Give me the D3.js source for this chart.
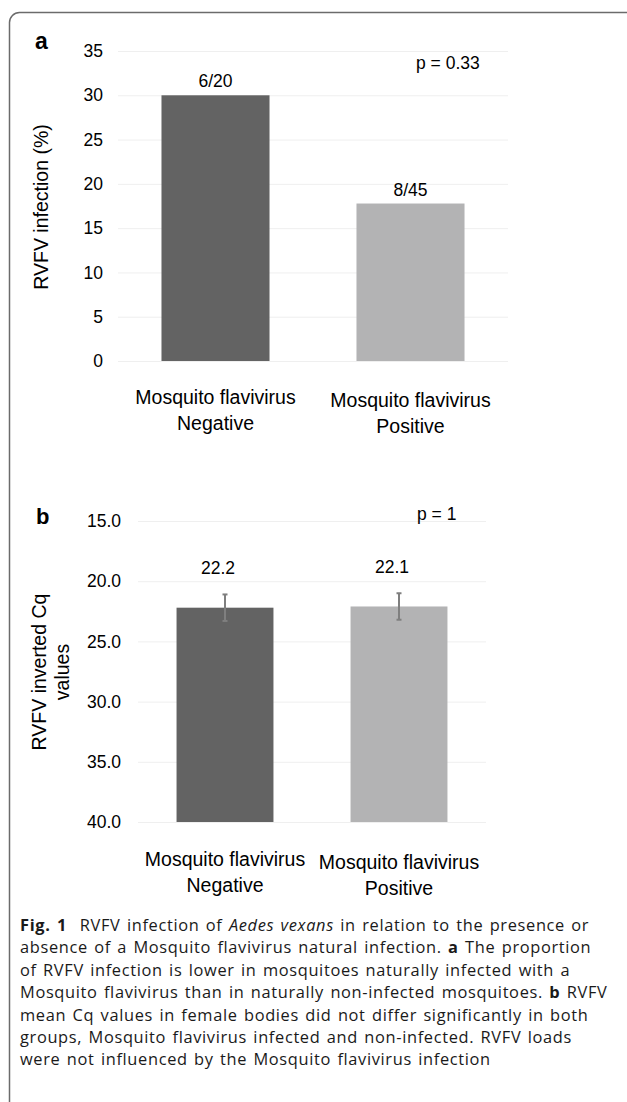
<!DOCTYPE html>
<html>
<head>
<meta charset="utf-8">
<script src="https://cdn.jsdelivr.net/npm/d3@7"></script>
<style>
  body { margin: 0; background: #fff; }
  svg text { font-family: "Liberation Sans", Arial, sans-serif; fill: #000; }
  .grid line { stroke: #efefef; stroke-width: 1; }
  .grid path { display: none; }
  .caption text { font-family: "Open Sans", sans-serif; font-size: 16.4px; letter-spacing: 0.65px; word-spacing: 1.5px; fill: #1a1a1a; }
</style>
</head>
<body>
<div id="chart"></div>
<script>
// categories shared by both panels
var groups = ["Mosquito flavivirus|Negative", "Mosquito flavivirus|Positive"];
var barColors = ["#636363", "#b3b3b4"];

// panel a: RVFV infection (%)
var infectionPct = [30, 17.78];
var infectionLabels = ["6/20", "8/45"];
var ticksA = [0, 5, 10, 15, 20, 25, 30, 35];
var pValueA = "p = 0.33";

// panel b: inverted Cq values
var meanCq = [22.2, 22.1];
var errCq = [1.1, 1.1];
var cqLabels = ["22.2", "22.1"];
var ticksB = [15, 20, 25, 30, 35, 40];
var pValueB = "p = 1";

var captionLines = [
  [["Fig. 1", "b"], ["  RVFV infection of ", ""], ["Aedes vexans", "i"], [" in relation to the presence or", ""]],
  [["absence of a Mosquito flavivirus natural infection. ", ""], ["a", "b"], [" The proportion", ""]],
  [["of RVFV infection is lower in mosquitoes naturally infected with a", ""]],
  [["Mosquito flavivirus than in naturally non-infected mosquitoes. ", ""], ["b", "b"], [" RVFV", ""]],
  [["mean Cq values in female bodies did not differ significantly in both", ""]],
  [["groups, Mosquito flavivirus infected and non-infected. RVFV loads", ""]],
  [["were not influenced by the Mosquito flavivirus infection", ""]]
];

var W = 627, H = 1102;
var svg = d3.select("#chart").append("svg")
  .attr("width", W)
  .attr("height", H);

// frame with rounded top-left corner
svg.append("path")
  .attr("d", "M9.5," + H + " V22.5 A10,10 0 0 1 19.5,12.5 H" + (W + 5))
  .attr("fill", "none")
  .attr("stroke", "#6b6b6b")
  .attr("stroke-width", 1.5);

function catLabels(g, x, y0, shift) {
  groups.forEach(function(c, i) {
    var t = g.append("text")
      .attr("text-anchor", "middle")
      .attr("font-size", 19.5);
    c.split("|").forEach(function(line, j) {
      t.append("tspan")
        .attr("x", x(c) + x.bandwidth() / 2)
        .attr("y", y0 + j * 26 + i * shift)
        .text(line);
    });
  });
}

// ---------- panel a ----------
var xa = d3.scaleBand().domain(groups).range([118, 508]).paddingInner(0.446).paddingOuter(0.223);
var ya = d3.scaleLinear().domain([0, 35]).range([361, 51]);

var ga = svg.append("g");
ga.append("g")
  .attr("class", "grid")
  .attr("transform", "translate(118,0)")
  .call(d3.axisLeft(ya).tickValues(ticksA).tickSize(-390).tickFormat(""));

ga.selectAll(".tickA")
  .data(ticksA)
  .enter().append("text")
  .attr("x", 103)
  .attr("y", function(d) { return ya(d); })
  .attr("dy", "0.35em")
  .attr("text-anchor", "end")
  .attr("font-size", 17.5)
  .text(function(d) { return d; });

ga.selectAll(".barA")
  .data(infectionPct)
  .enter().append("rect")
  .attr("x", function(d, i) { return xa(groups[i]); })
  .attr("width", xa.bandwidth())
  .attr("y", function(d) { return ya(d); })
  .attr("height", function(d) { return ya(0) - ya(d); })
  .attr("fill", function(d, i) { return barColors[i]; });

ga.selectAll(".labA")
  .data(infectionPct)
  .enter().append("text")
  .attr("x", function(d, i) { return xa(groups[i]) + xa.bandwidth() / 2; })
  .attr("y", function(d) { return ya(d) - 8; })
  .attr("text-anchor", "middle")
  .attr("font-size", 17.5)
  .text(function(d, i) { return infectionLabels[i]; });

ga.append("text")
  .attr("x", 416).attr("y", 69)
  .attr("font-size", 17.5)
  .text(pValueA);

ga.append("text")
  .attr("x", 35).attr("y", 49)
  .attr("font-size", 23)
  .attr("font-weight", "bold")
  .text("a");

ga.append("text")
  .attr("transform", "translate(48,207) rotate(-90)")
  .attr("text-anchor", "middle")
  .attr("font-size", 19.5)
  .text("RVFV infection (%)");

catLabels(ga, xa, 404, 3);

// ---------- panel b ----------
var xb = d3.scaleBand().domain(groups).range([138, 486]).paddingInner(0.443).paddingOuter(0.2215);
var yb = d3.scaleLinear().domain([15, 40]).range([521, 822]);

var gb = svg.append("g");
gb.append("g")
  .attr("class", "grid")
  .attr("transform", "translate(138,0)")
  .call(d3.axisLeft(yb).tickValues(ticksB).tickSize(-348).tickFormat(""));

gb.selectAll(".tickB")
  .data(ticksB)
  .enter().append("text")
  .attr("x", 121)
  .attr("y", function(d) { return yb(d); })
  .attr("dy", "0.35em")
  .attr("text-anchor", "end")
  .attr("font-size", 17.5)
  .text(function(d) { return d3.format(".1f")(d); });

gb.selectAll(".barB")
  .data(meanCq)
  .enter().append("rect")
  .attr("x", function(d, i) { return xb(groups[i]); })
  .attr("width", xb.bandwidth())
  .attr("y", function(d) { return yb(d); })
  .attr("height", function(d) { return yb(40) - yb(d); })
  .attr("fill", function(d, i) { return barColors[i]; });

// error bars
meanCq.forEach(function(m, i) {
  var cx = xb(groups[i]) + xb.bandwidth() / 2;
  var e = gb.append("g").attr("stroke", "#7f7f7f").attr("stroke-width", 2);
  e.append("line").attr("x1", cx).attr("x2", cx).attr("y1", yb(m - errCq[i])).attr("y2", yb(m + errCq[i]));
  e.append("line").attr("x1", cx - 2.5).attr("x2", cx + 2.5).attr("y1", yb(m - errCq[i])).attr("y2", yb(m - errCq[i]));
  e.append("line").attr("x1", cx - 2.5).attr("x2", cx + 2.5).attr("y1", yb(m + errCq[i])).attr("y2", yb(m + errCq[i]));
});

gb.selectAll(".labB")
  .data(meanCq)
  .enter().append("text")
  .attr("x", function(d, i) { return xb(groups[i]) + xb.bandwidth() / 2; })
  .attr("y", function(d, i) { return yb(d - errCq[i]) - 20; })
  .attr("dx", -7)
  .attr("text-anchor", "middle")
  .attr("font-size", 17.5)
  .text(function(d, i) { return cqLabels[i]; });

gb.append("text")
  .attr("x", 417).attr("y", 520)
  .attr("font-size", 17.5)
  .text(pValueB);

gb.append("text")
  .attr("x", 36).attr("y", 524)
  .attr("font-size", 22)
  .attr("font-weight", "bold")
  .text("b");

var yt = gb.append("text")
  .attr("transform", "translate(46,672) rotate(-90)")
  .attr("text-anchor", "middle")
  .attr("font-size", 19.5);
yt.append("tspan").attr("x", 0).attr("y", 0).text("RVFV inverted Cq");
yt.append("tspan").attr("x", 0).attr("y", 23).text("values");

catLabels(gb, xb, 866, 3);

// ---------- caption ----------
var cap = svg.append("g").attr("class", "caption");
captionLines.forEach(function(parts, i) {
  var t = cap.append("text")
    .attr("x", 20)
    .attr("y", 931 + i * 22.4)
    .attr("xml:space", "preserve");
  parts.forEach(function(p) {
    var s = t.append("tspan").text(p[0]);
    if (p[1] == "b") s.attr("font-weight", "bold");
    if (p[1] == "i") s.attr("font-style", "italic");
  });
});
</script>
</body>
</html>
